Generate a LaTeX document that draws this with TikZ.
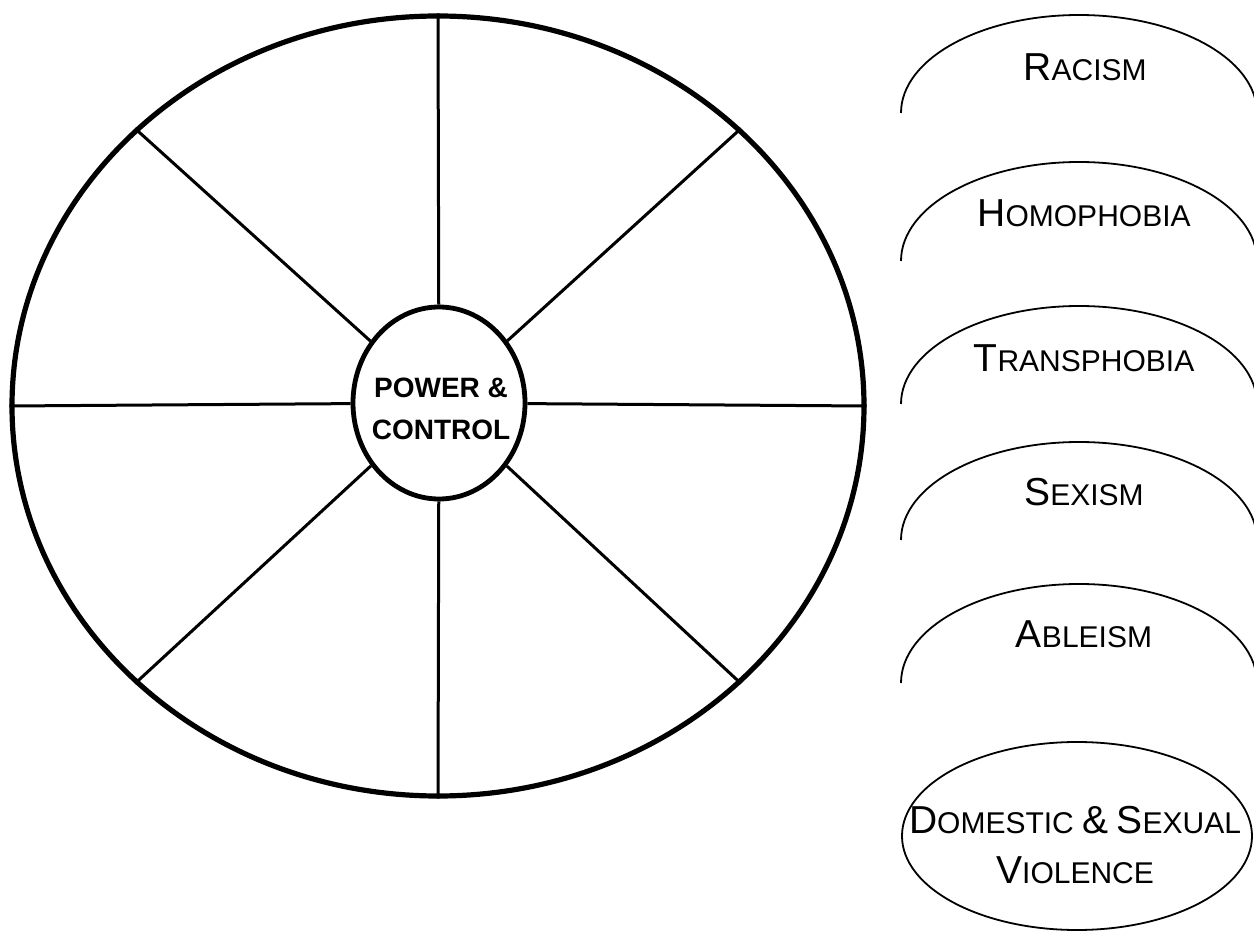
\documentclass[tikz,border=0pt]{standalone}
\usepackage{fontspec}
\setmainfont{Liberation Sans}
\usetikzlibrary{shapes.geometric}
% fake small capitals: first letter large, rest small
\newcommand{\smcap}[2]{{\fontsize{19.5}{23}\selectfont #1}{\fontsize{15}{18}\selectfont #2}}
\newcommand{\bigamp}{{\fontsize{19.5}{23}\selectfont\&}}
\tikzset{
  wheel/.style  = {ellipse, draw, line width=2.6pt, inner sep=0pt,
                   minimum width=426pt, minimum height=390pt},
  hub/.style    = {ellipse, draw, line width=2.4pt, fill=white, inner sep=0pt,
                   minimum width=86pt, minimum height=96pt},
  hubtext/.style= {align=center, inner sep=0pt,
                   font=\bfseries\fontsize{14}{21}\selectfont},
  spoke/.style  = {line width=1.5pt},
  arch/.style   = {line width=0.9pt},
  ism/.style    = {anchor=base, inner sep=0pt, font=\fontsize{15}{18}\selectfont},
  oval/.style   = {ellipse, draw, line width=0.9pt, inner sep=0pt,
                   minimum width=175pt, minimum height=94pt},
}
\begin{document}
\begin{tikzpicture}[x=0.5pt, y=-0.5pt]
  \useasboundingbox (0,0) rectangle (1254,935);

  % the wheel
  \node[wheel] (wheel) at (438,406) {};
  \node[hub] (hub) at (439,403) {};
  \draw[spoke] (hub) -- (wheel.north);
  \draw[spoke] (hub) -- (wheel.south);
  \draw[spoke] (hub) -- (wheel.east);
  \draw[spoke] (hub) -- (wheel.west);
  \draw[spoke] (hub) -- (wheel.north east);
  \draw[spoke] (hub) -- (wheel.north west);
  \draw[spoke] (hub) -- (wheel.south east);
  \draw[spoke] (hub) -- (wheel.south west);
  \node[hubtext] (hubtext) at (441,409) {POWER \&\\CONTROL};

  % the arches
  \draw[arch] (901,113) arc[start angle=180, end angle=360, x radius=178, y radius=98];
  \node[ism] (racism) at (1085,81) {\smcap{R}{ACISM}};

  \draw[arch] (901,261) arc[start angle=180, end angle=360, x radius=178, y radius=99];
  \node[ism] (homophobia) at (1084,227) {\smcap{H}{OMOPHOBIA}};

  \draw[arch] (901,404) arc[start angle=180, end angle=360, x radius=178, y radius=98];
  \node[ism] (transphobia) at (1084,372) {\smcap{T}{RANSPHOBIA}};

  \draw[arch] (901,540) arc[start angle=180, end angle=360, x radius=178, y radius=98];
  \node[ism] (sexism) at (1084,506) {\smcap{S}{EXISM}};

  \draw[arch] (901,683) arc[start angle=180, end angle=360, x radius=178, y radius=99];
  \node[ism] (ableism) at (1084,647) {\smcap{A}{BLEISM}};

  % last one is a closed oval
  \node[oval] (dsv) at (1077,836) {};
  \node[ism, anchor=center, align=center] (dsvtext) at (1075,845)
       {\smcap{D}{OMESTIC} \bigamp{} \smcap{S}{EXUAL}\\[7pt]\smcap{V}{IOLENCE}};
\end{tikzpicture}
\end{document}
